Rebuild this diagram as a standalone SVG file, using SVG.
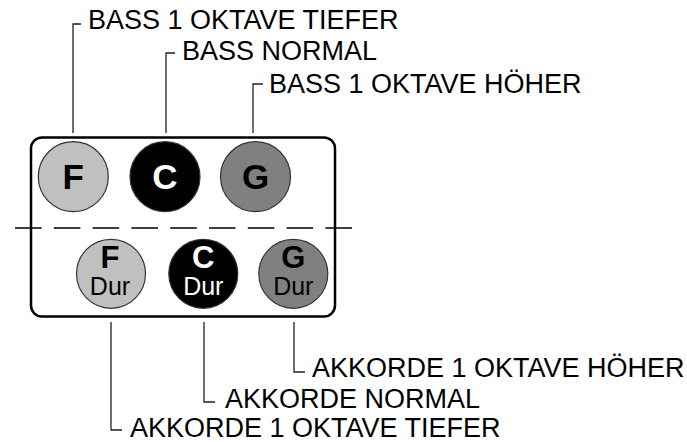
<svg xmlns="http://www.w3.org/2000/svg" width="687" height="442" viewBox="0 0 687 442">
  <style>
    .lbl { font-family: "Liberation Sans", Arial, sans-serif; font-size: 27px; fill: #000; }
    .big { font-family: "Liberation Sans", Arial, sans-serif; font-weight: bold; text-anchor: middle; }
    .top { font-size: 35px; }
    .bot { font-size: 31px; }
    .dur { font-family: "Liberation Sans", Arial, sans-serif; font-size: 25px; text-anchor: middle; }
    .lead { fill: none; stroke: #222; stroke-width: 1.3; }
    .c { stroke: #333; stroke-width: 1.2; }
    .light { fill: #c0c0c0; }
    .dark { fill: #000; }
    .mid { fill: #808080; }
  </style>
  <rect width="687" height="442" fill="#fff"/>

  <g id="panel">
    <rect x="31" y="137.5" width="304" height="179" rx="11" ry="11" fill="#fff" stroke="#000" stroke-width="2.5"/>
    <line x1="15" y1="228" x2="352" y2="228" stroke="#000" stroke-width="1.3" stroke-dasharray="26.6 12.2"/>
  </g>

  <g id="connectors">
    <polyline class="lead" points="73,133 73,24 81,24"/>
    <polyline class="lead" points="166,133 166,53 175,53"/>
    <polyline class="lead" points="253,133 253,84 263,84"/>
    <polyline class="lead" points="111,322 111,430 122,430"/>
    <polyline class="lead" points="204,322 204,402 215,402"/>
    <polyline class="lead" points="294,322 294,372 305,372"/>
  </g>

  <g id="bass-f">
    <circle class="c light" cx="73.3" cy="176.7" r="35"/>
    <text class="big top" x="73.3" y="188.5" fill="#000">F</text>
  </g>
  <g id="bass-c">
    <circle class="c dark" cx="165" cy="176.7" r="35"/>
    <text class="big top" x="165" y="188.5" fill="#fff">C</text>
  </g>
  <g id="bass-g">
    <circle class="c mid" cx="255.5" cy="176.7" r="35"/>
    <text class="big top" x="255.5" y="188.5" fill="#000">G</text>
  </g>

  <g id="chord-f">
    <circle class="c light" cx="111" cy="273.8" r="34.5"/>
    <text class="big bot" x="110" y="268" fill="#000">F</text>
    <text class="dur" x="110" y="295" fill="#000">Dur</text>
  </g>
  <g id="chord-c">
    <circle class="c dark" cx="203.3" cy="273.8" r="34.5"/>
    <text class="big bot" x="203.3" y="268" fill="#fff">C</text>
    <text class="dur" x="203.3" y="295" fill="#fff">Dur</text>
  </g>
  <g id="chord-g">
    <circle class="c mid" cx="293.3" cy="273.8" r="34.5"/>
    <text class="big bot" x="293.3" y="268" fill="#000">G</text>
    <text class="dur" x="293.3" y="295" fill="#000">Dur</text>
  </g>

  <g id="labels">
    <text class="lbl" x="88" y="28.5">BASS 1 OKTAVE TIEFER</text>
    <text class="lbl" x="182" y="59.5">BASS NORMAL</text>
    <text class="lbl" x="269" y="93">BASS 1 OKTAVE HÖHER</text>
    <text class="lbl" x="312" y="376.5">AKKORDE 1 OKTAVE HÖHER</text>
    <text class="lbl" x="225" y="408">AKKORDE NORMAL</text>
    <text class="lbl" x="130" y="437">AKKORDE 1 OKTAVE TIEFER</text>
  </g>
</svg>
